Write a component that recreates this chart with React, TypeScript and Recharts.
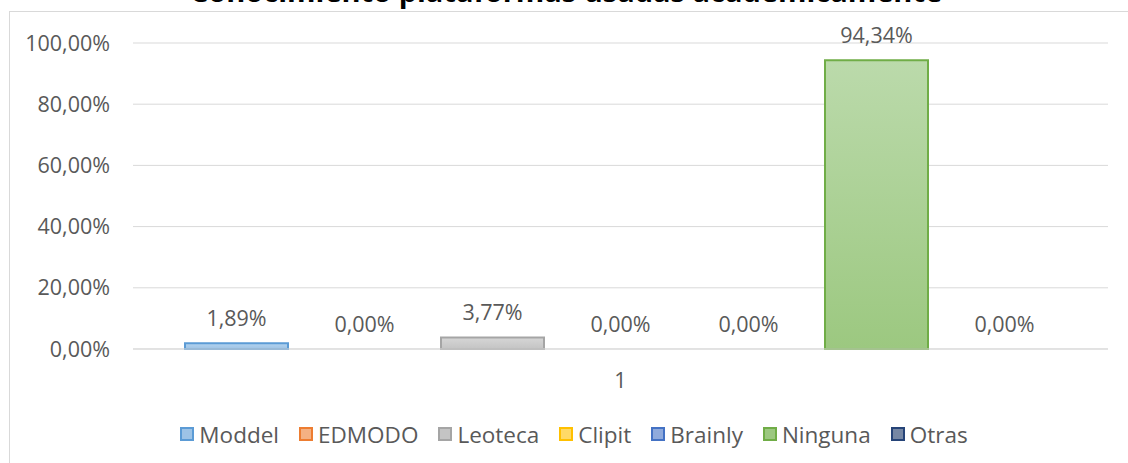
import { Bar, BarChart, CartesianGrid, LabelList, Legend, Rectangle, XAxis, YAxis } from "recharts";

const categories = ["1"];
const seriesNames = ["Moddel", "EDMODO", "Leoteca", "Clipit", "Brainly", "Ninguna", "Otras"];
const seriesValues = [1.89, 0, 3.77, 0, 0, 94.34, 0];
const yTicks = [0, 20, 40, 60, 80, 100];

const strokes = ["#5B9BD5", "#ED7D31", "#A5A5A5", "#FFC000", "#4472C4", "#70AD47", "#264478"];
const fillsTop = ["#B4D3EE", "#F7C5A6", "#D6D6D6", "#FFE38F", "#A9BFE6", "#BBDAAB", "#8E9DB8"];
const fillsBottom = ["#9DC3E6", "#F4B183", "#C4C4C4", "#FFD966", "#8FAADC", "#9CC880", "#7687A4"];

const data = categories.map((name) => {
  const row: Record<string, string | number> = { name };
  seriesNames.forEach((s, i) => {
    row[s] = seriesValues[i];
  });
  return row;
});

const font = "'Open Sans', sans-serif";
const textColor = "#595959";
const fs = 21.5;
const pct = (v: number) => `${Number(v).toFixed(2).replace(".", ",")}%`;

function LegendBox() {
  return (
    <div
      style={{
        height: 50,
        display: "flex",
        justifyContent: "center",
        alignItems: "center",
        gap: 20,
        fontFamily: font,
        fontSize: 22.5,
        color: textColor,
        paddingLeft: 40,
      }}
    >
      {seriesNames.map((s, i) => (
        <div key={s} style={{ display: "flex", alignItems: "center", gap: 5 }}>
          <span
            style={{
              display: "inline-block",
              width: 10,
              height: 10,
              background: fillsBottom[i],
              border: `2px solid ${strokes[i]}`,
            }}
          />
          <span>{s}</span>
        </div>
      ))}
    </div>
  );
}

// zero bars keep their label but draw no box, as in the source chart
const BarShape = (props: any) => {
  const v = props.payload?.[props.dataKey];
  if (!v) return <g />;
  return <Rectangle {...props} />;
};

const BarValue = (props: any) => {
  const { x, y, width, height, value } = props;
  const top = Number(value) === 0 ? Number(y) + Number(height) : Number(y);
  return (
    <text
      x={Number(x) + Number(width) / 2}
      y={top - 17}
      textAnchor="middle"
      fill={textColor}
      fontSize={fs}
      fontFamily={font}
    >
      {pct(value)}
    </text>
  );
};

export default function App() {
  return (
    <div style={{ position: "absolute", left: 0, top: 0, width: 1128, height: 463, overflow: "hidden", background: "#fff" }}>
      <div
        style={{
          position: "absolute",
          left: 9,
          top: 11,
          width: 1140,
          height: 480,
          border: "1.5px solid #D9D9D9",
        }}
      />
      <div
        style={{
          position: "absolute",
          left: 0,
          width: 1128,
          top: -26,
          textAlign: "center",
          fontFamily: font,
          fontWeight: "bold",
          fontSize: 29,
          lineHeight: "34px",
          color: "#000",
          paddingLeft: 2,
        }}
      >
        Conocimiento plataformas usadas académicamente
      </div>
      <div style={{ position: "absolute", left: 0, top: 0 }}>
        <BarChart
          width={1128}
          height={463}
          data={data}
          margin={{ top: 43, right: 20, left: 0, bottom: 4 }}
          barSize={103}
          barGap={25}
        >
          <defs>
            {seriesNames.map((s, i) => (
              <linearGradient key={s} id={`g${i}`} x1="0" y1="0" x2="0" y2="1">
                <stop offset="0%" stopColor={fillsTop[i]} />
                <stop offset="100%" stopColor={fillsBottom[i]} />
              </linearGradient>
            ))}
          </defs>
          <CartesianGrid vertical={false} stroke="#D9D9D9" strokeWidth={1} />
          <XAxis
            dataKey="name"
            height={60}
            axisLine={{ stroke: "#D9D9D9" }}
            tickLine={false}
            tickSize={0}
            tickMargin={24}
            tick={{ fill: textColor, fontSize: fs, fontFamily: font }}
          />
          <YAxis
            width={133}
            domain={[0, 100]}
            ticks={yTicks}
            axisLine={false}
            tickLine={false}
            tickSize={0}
            tickMargin={23}
            tickFormatter={pct}
            tick={{ fill: textColor, fontSize: fs, fontFamily: font }}
          />
          <Legend verticalAlign="bottom" content={() => <LegendBox />} />
          {seriesNames.map((s, i) => (
            <Bar
              key={s}
              dataKey={s}
              fill={`url(#g${i})`}
              stroke={strokes[i]}
              strokeWidth={2}
              minPointSize={1}
              shape={BarShape}
              isAnimationActive={false}
            >
              <LabelList dataKey={s} content={BarValue} />
            </Bar>
          ))}
        </BarChart>
      </div>
    </div>
  );
}
